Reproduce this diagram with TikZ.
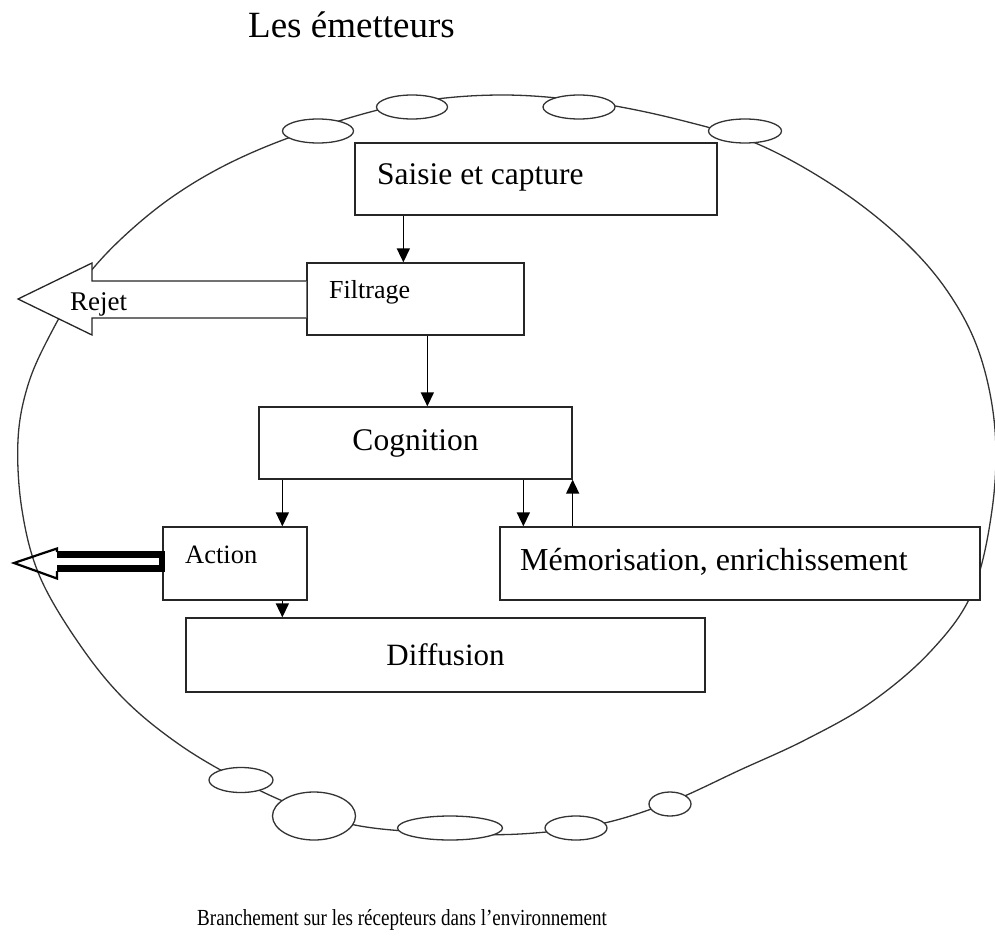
\documentclass[tikz,border=0pt]{standalone}
\usepackage{fontspec}
\setmainfont{Liberation Serif}
\usepackage{graphicx}
\usetikzlibrary{arrows.meta,shapes.geometric}
\begin{document}
\begin{tikzpicture}[x=1pt,y=-1pt,
  boxnode/.style={draw=black!85, line width=1.3pt, fill=white, rectangle, inner sep=0pt},
  ringline/.style={draw=black!80, line width=1.3pt},
  smallell/.style={draw=black!80, line width=1.3pt, fill=white, ellipse, inner sep=0pt},
  arr/.style={draw=black, line width=1.5pt, -{Triangle[width=13pt,length=14pt]}},
  lbl/.style={inner sep=0pt, anchor=base west}
]
\useasboundingbox (0,0) rectangle (995,944);

% title
\node[lbl] (title) at (248,38) {\fontsize{37}{42}\selectfont Les émetteurs};

% ring
\draw[ringline] plot[smooth cycle, tension=0.6] coordinates {
 (40,577) (22,510) (18,440) (28,385) (50,335) (80,285) (120,240) (175,195)
 (240,158) (320,127) (410,103) (500,95) (590,102) (680,120) (760,145) (840,190)
 (905,242) (950,295) (980,355) (995,430) (992,510) (972,593) (930,652) (870,703)
 (805,740) (740,770) (670,802) (600,824) (520,834) (440,833) (360,826) (300,808)
 (241,781) (180,745) (125,700) (80,645)};

% small ellipses on the ring
\node[smallell, minimum width=71pt, minimum height=24pt] (e1) at (318,131) {};
\node[smallell, minimum width=71pt, minimum height=24pt] (e2) at (412,107) {};
\node[smallell, minimum width=72pt, minimum height=24pt] (e3) at (579,107) {};
\node[smallell, minimum width=73pt, minimum height=24pt] (e4) at (745,131) {};
\node[smallell, minimum width=64pt, minimum height=25pt] (b1) at (241,780) {};
\node[smallell, minimum width=83pt, minimum height=48pt] (b2) at (314,816) {};
\node[smallell, minimum width=105pt, minimum height=24pt] (b3) at (450,828) {};
\node[smallell, minimum width=62pt, minimum height=24pt] (b4) at (576,828) {};
\node[smallell, minimum width=42pt, minimum height=24pt] (b5) at (670,804) {};

% boxes
\node[boxnode, minimum width=362pt, minimum height=72pt] (saisie) at (536,179) {};
\node[boxnode, minimum width=217pt, minimum height=72pt] (filtrage) at (415.5,299) {};
\node[boxnode, minimum width=313pt, minimum height=72pt] (cognition) at (415.5,443) {};
\node[boxnode, minimum width=144pt, minimum height=73pt] (action) at (235,563.5) {};
\node[boxnode, minimum width=480pt, minimum height=73pt] (memo) at (740,563.5) {};
\node[boxnode, minimum width=519pt, minimum height=74pt] (diffusion) at (445.5,655) {};

% labels
\node[lbl] (saisieT) at (377,185) {\fontsize{31.5}{36}\selectfont Saisie et capture};
\node[lbl] (filtrageT) at (329,298) {\fontsize{26}{30}\selectfont Filtrage};
\node[inner sep=0pt, anchor=base] (cognitionT) at (415.5,450) {\fontsize{31.5}{36}\selectfont Cognition};
\node[lbl] (actionT) at (185,563) {\fontsize{26.5}{30}\selectfont Action};
\node[lbl] (memoT) at (520,570) {\fontsize{32}{36}\selectfont Mémorisation, enrichissement};
\node[inner sep=0pt, anchor=base] (diffusionT) at (445.5,665) {\fontsize{31}{36}\selectfont Diffusion};

% Rejet arrow (wide hollow arrow out of Filtrage)
\draw[black!85, line width=1.3pt, fill=white]
  (filtrage.west |- 0,281) -- (92,281) -- (92,263) -- (18,299) -- (92,335) -- (92,318) -- (filtrage.west |- 0,318);
\node[lbl] (rejetT) at (70,310) {\fontsize{27}{30}\selectfont Rejet};

% Action double arrow
\fill[black] (57,551) rectangle (action.west |- 0,558);
\fill[black] (57,565) rectangle (action.west |- 0,572);
\fill[black] (159,551) rectangle ([xshift=3pt]action.west |- 0,572);
\draw[black, line width=2.2pt, line join=miter] (57,552) -- (57,548.5) -- (14,563) -- (57,578.5) -- (57,571);

% connectors
\draw[arr] ([xshift=49pt]saisie.south west) -- ([xshift=49pt]saisie.south west |- filtrage.north);
\draw[arr] ([xshift=121pt]filtrage.south west) -- ([xshift=121pt]filtrage.south west |- cognition.north);
\draw[arr] ([xshift=24pt]cognition.south west) -- ([xshift=24pt]cognition.south west |- action.north);
\draw[arr] ([xshift=265pt]cognition.south west) -- ([xshift=265pt]cognition.south west |- memo.north);
\draw[arr] (cognition.south east |- memo.north) -- (cognition.south east);
\draw[arr] ([xshift=120pt]action.south west) -- ([xshift=120pt]action.south west |- diffusion.north);

% bottom caption
\node[lbl] (caption) at (197,925) {\scalebox{0.83}[1]{\fontsize{23}{27}\selectfont Branchement sur les récepteurs dans l’environnement}};
\end{tikzpicture}
\end{document}
